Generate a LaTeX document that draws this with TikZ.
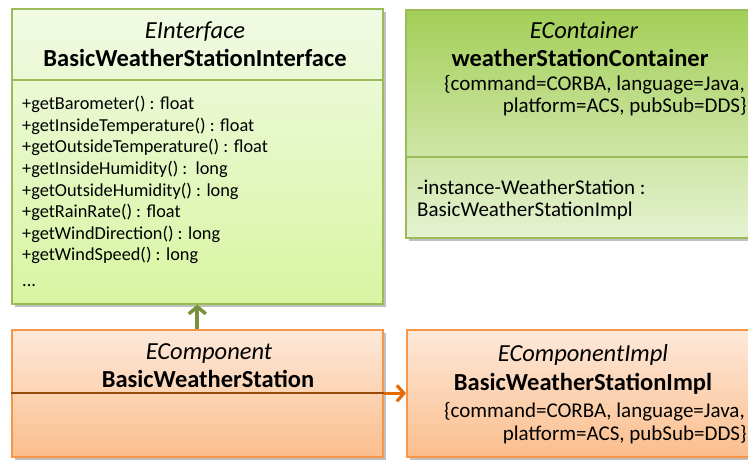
\documentclass[tikz,border=0pt]{standalone}
\usepackage{fontspec}
\setmainfont{Carlito}
\usetikzlibrary{arrows.meta,shadows}
\definecolor{gborder}{HTML}{9BBB59}
\definecolor{gtopA}{HTML}{F1FAE4}
\definecolor{gbotA}{HTML}{D8F5A2}
\definecolor{gtopB}{HTML}{A3CF58}
\definecolor{gbotB}{HTML}{E6F2D2}
\definecolor{oborder}{HTML}{F79646}
\definecolor{otop}{HTML}{FDE9DA}
\definecolor{obot}{HTML}{FBBE8D}
\definecolor{odiv}{HTML}{984807}
\definecolor{garrowc}{HTML}{76923C}
\definecolor{oarrowc}{HTML}{E36C09}
\newcommand{\ftitle}{\fontsize{24.5}{28}\selectfont}
\newcommand{\fmeth}{\fontsize{18.3}{21}\selectfont}
\newcommand{\fprop}{\fontsize{21}{24}\selectfont}
\tikzset{
  umlbox/.style={rectangle, anchor=north west, inner sep=0pt, line width=1.6pt,
    drop shadow={shadow xshift=3pt, shadow yshift=-3pt, fill=black, opacity=0.25}},
  ifacebox/.style={umlbox, draw=gborder, top color=gtopA, bottom color=gbotA},
  contbox/.style={umlbox, draw=gborder, top color=gtopB, bottom color=gbotB},
  compbox/.style={umlbox, draw=oborder, top color=otop, bottom color=obot},
  txt/.style={inner sep=0pt, anchor=base, text=black},
  txtl/.style={inner sep=0pt, anchor=base west, text=black},
  txtr/.style={inner sep=0pt, anchor=base east, text=black},
  garrow/.style={draw=garrowc, line width=4pt, -{Straight Barb[length=7pt,width=17pt,line width=3.5pt]}},
  oarrow/.style={draw=oarrowc, line width=3pt, -{Straight Barb[length=7pt,width=16pt,line width=3.2pt]}},
}
\begin{document}
\begin{tikzpicture}[x=1pt,y=-1pt]
\useasboundingbox (0,0) rectangle (748,460);
\clip (0,0) rectangle (748,460);
% boxes
\node[ifacebox, minimum width=371pt, minimum height=295pt] (iface) at (11,8) {};
\node[contbox, minimum width=365pt, minimum height=228pt] (cont) at (405,9) {};
\node[compbox, minimum width=371pt, minimum height=127pt] (comp) at (11,329) {};
\node[compbox, minimum width=365pt, minimum height=127pt] (impl) at (406,329) {};
% dividers
\draw[gborder, line width=1.6pt] (iface.west |- 0,80) -- (iface.east |- 0,80);
\draw[gborder, line width=1.6pt] (cont.west |- 0,157) -- (cont.east |- 0,157);
\draw[odiv, line width=1.8pt] (comp.west) -- (comp.east);
% interface texts
\node[txt] (ifst) at (195,39) {\ftitle\itshape EInterface};
\node[txt] (ifnm) at (195,67) {\ftitle\bfseries BasicWeatherStationInterface};
\node[txtl] (m1) at (22,110) {\fmeth +getBarometer() : float};
\node[txtl] (m2) at (22,131.5) {\fmeth +getInsideTemperature() : float};
\node[txtl] (m3) at (22,153) {\fmeth +getOutsideTemperature() : float};
\node[txtl] (m4) at (22,174.5) {\fmeth +getInsideHumidity() :\ \ long};
\node[txtl] (m5) at (22,196) {\fmeth +getOutsideHumidity() : long};
\node[txtl] (m6) at (22,217.5) {\fmeth +getRainRate() : float};
\node[txtl] (m7) at (22,239) {\fmeth +getWindDirection() : long};
\node[txtl] (m8) at (22,260.5) {\fmeth +getWindSpeed() : long};
\node[txtl] (m9) at (22,286) {\fmeth ...};
% container texts
\node[txt] (cst) at (584,39) {\ftitle\itshape EContainer};
\node[txt] (cnm) at (580,67) {\ftitle\bfseries weatherStationContainer};
\node[txtr] (cp1) at (745,91) {\fprop\{command=CORBA, language=Java,};
\node[txtr] (cp2) at (747,113) {\fprop platform=ACS, pubSub=DDS\}};
\node[txtl] (ca1) at (417,194) {\fprop -instance-WeatherStation :};
\node[txtl] (ca2) at (417,216) {\fprop BasicWeatherStationImpl};
% component texts
\node[txt] (pst) at (209,359) {\ftitle\itshape EComponent};
\node[txt] (pnm) at (208,387) {\ftitle\bfseries BasicWeatherStation};
% impl texts
\node[txt] (ist) at (583,361) {\ftitle\itshape EComponentImpl};
\node[txt] (inm) at (583,390) {\ftitle\bfseries BasicWeatherStationImpl};
\node[txtr] (ip1) at (745,417) {\fprop\{command=CORBA, language=Java,};
\node[txtr] (ip2) at (747,440) {\fprop platform=ACS, pubSub=DDS\}};
% connectors
\draw[garrow] (comp.north) -- (iface.south);
\draw[oarrow] (comp.east) -- (impl.west);
\end{tikzpicture}
\end{document}
